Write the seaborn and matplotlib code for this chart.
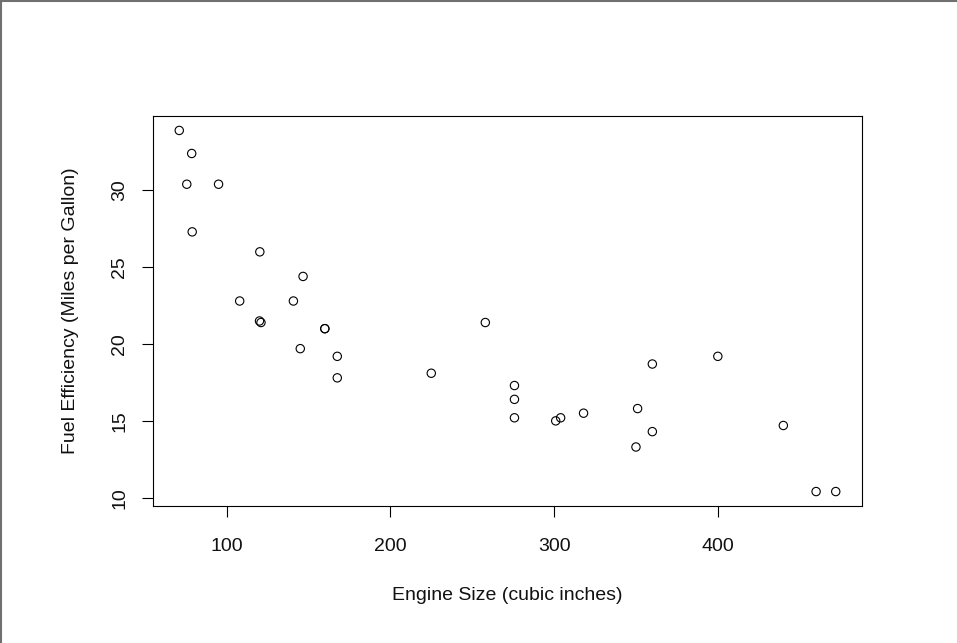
import matplotlib
matplotlib.use("Agg")
import matplotlib.pyplot as plt
import seaborn as sns
import pandas as pd
from matplotlib.lines import Line2D

# mtcars: displacement vs mpg
disp = [160, 160, 108, 258, 360, 225, 360, 146.7, 140.8, 167.6, 167.6, 275.8,
        275.8, 275.8, 472, 460, 440, 78.7, 75.7, 71.1, 120.1, 318, 304, 350,
        400, 79, 120.3, 95.1, 351, 145, 301, 121]
mpg = [21.0, 21.0, 22.8, 21.4, 18.7, 18.1, 14.3, 24.4, 22.8, 19.2, 17.8, 16.4,
       17.3, 15.2, 10.4, 10.4, 14.7, 32.4, 30.4, 33.9, 21.5, 15.5, 15.2, 13.3,
       19.2, 27.3, 26.0, 30.4, 15.8, 19.7, 15.0, 21.4]
x_ticks = [100, 200, 300, 400]
y_ticks = [10, 15, 20, 25, 30]

df = pd.DataFrame({"disp": disp, "mpg": mpg})

sns.set_style("white")
plt.rcParams['font.family'] = ['Liberation Sans', 'DejaVu Sans']

fig = plt.figure(figsize=(9.57, 6.43), dpi=100)
ax = fig.add_axes([153/957, 1-506/643, (862-153)/957, (506-116)/643])

sns.scatterplot(data=df, x="disp", y="mpg", ax=ax, marker="o", s=36,
                facecolors="none", edgecolor="black", linewidth=0.8)

xr = max(disp) - min(disp)
yr = max(mpg) - min(mpg)
ax.set_xlim(min(disp) - 0.04*xr, max(disp) + 0.04*xr)
ax.set_ylim(min(mpg) - 0.04*yr, max(mpg) + 0.04*yr)

ax.set_xticks(x_ticks)
ax.set_yticks(y_ticks)
ax.set_xticklabels([str(v) for v in x_ticks])
ax.set_yticklabels([str(v) for v in y_ticks], rotation=90, va="center")
ax.tick_params(axis="both", direction="out", length=8, width=0.8, color="black",
               labelsize=14, labelcolor="#111111", bottom=True, left=True)
ax.tick_params(axis="x", pad=15)
ax.tick_params(axis="y", pad=10)

for sp in ax.spines.values():
    sp.set_color("black")
    sp.set_linewidth(0.8)
    sp.set_visible(True)

ax.set_xlabel("Engine Size (cubic inches)", fontsize=14, labelpad=23, color="#111111")
ax.set_ylabel("Fuel Efficiency (Miles per Gallon)", fontsize=14, labelpad=23, color="#111111")

# image border (top and left)
fig.add_artist(Line2D([0.5/957, 0.5/957], [0, 1], transform=fig.transFigure,
                      color="#707070", linewidth=1.5))
fig.add_artist(Line2D([0, 1], [1-0.5/643, 1-0.5/643], transform=fig.transFigure,
                      color="#707070", linewidth=1.5))

fig.savefig("out.png", dpi=100)
